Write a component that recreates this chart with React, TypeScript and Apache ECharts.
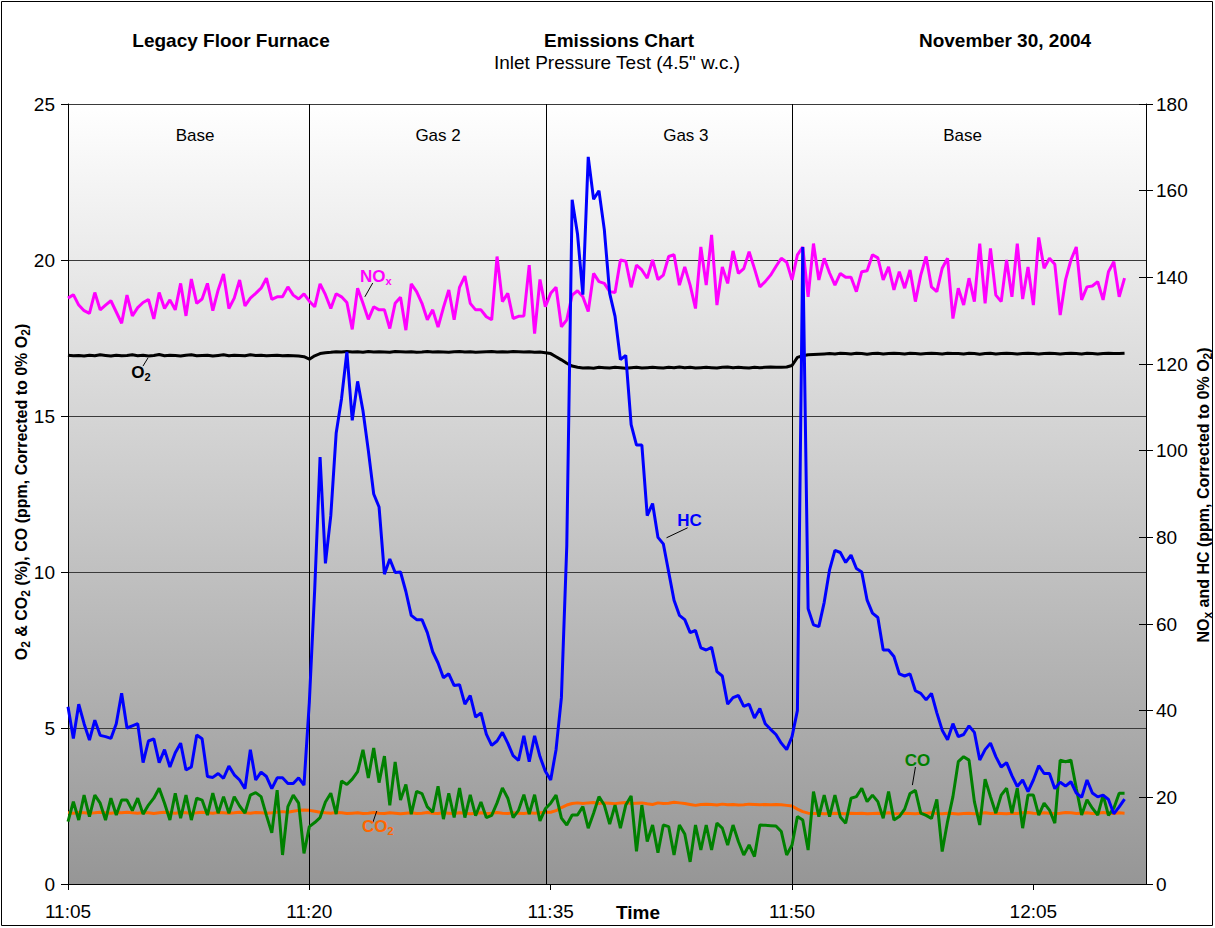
import React, { useEffect, useRef } from "react";
import * as echarts from "echarts";

// ---- time base: samples every 20 s starting 11:05 (x in minutes after 11:05)
const START_HOUR = 11;
const START_MINUTE = 5;
const STEP_MIN = 1 / 3;
const X_MAX = 67;
const X_INTERVAL = 15;

// ---- test phases
const PHASE_BOUNDS = [15.0, 29.7, 45.0];
const PHASE_NAMES = ["Base", "Gas 2", "Gas 3", "Base"];
const PHASE_LABEL_T = [7.9, 23.0, 38.4, 55.6];
const PHASE_LABEL_V = 24.0;

// ---- series values
// HC, ppm (right axis)
const HC = [
  40.9, 33.6, 41.5, 37, 33.2, 37.8, 34.3, 34, 33.6, 37,
  44, 36, 36.5, 37, 28, 33, 33.5, 28, 31, 27,
  30.3, 32.5, 26.3, 27, 34.4, 33.5, 24.8, 24.6, 25.5, 24.4,
  27.2, 25.2, 24, 22, 31, 24, 25.8, 24.8, 22, 24.5,
  24.5, 23.2, 23.2, 24.5, 22.8, 42, 68, 98.5, 74, 85,
  104, 112, 122.8, 107, 116, 109.2, 100, 90, 87, 71.5,
  75, 71.9, 72, 67.5, 62, 61, 61, 58, 53.6, 51,
  47.6, 48.5, 45.8, 46, 41.5, 43.5, 38.5, 39.5, 34.6, 32,
  33, 35, 32.5, 29.6, 28.5, 34.2, 28.2, 34.2, 29.4, 26,
  24, 31, 43, 78, 157.9, 150, 136, 167.8, 158, 160,
  151, 136.3, 131, 121, 122, 106, 101.3, 101.3, 85, 87.8,
  80, 78.5, 72, 65.5, 62, 61, 58, 58.5, 54.5, 54,
  54.6, 49, 48, 41.5, 43, 43.5, 41, 41.5, 38.3, 40.5,
  37, 35.7, 34.5, 32.5, 31, 34, 40, 147, 63.5, 59.8,
  59.4, 65, 72.5, 77, 76.5, 74.2, 75.9, 72.8, 72, 65.5,
  62.5, 61.5, 54, 54, 52.5, 48.5, 48, 48.5, 44.6, 44,
  42.5, 44, 39.5, 35.5, 33.3, 37, 34, 34.5, 36.5, 35,
  28.6, 31, 32.5, 29.4, 27, 28, 25, 22.5, 24, 21.3,
  24, 27.3, 25.5, 25.5, 22, 23.5, 22.6, 23.6, 21, 20,
  24, 21, 20.1, 20.5, 19.5, 16.2, 17.8, 19.6,
];

// NOx, ppm (right axis)
const NOX = [
  135.2, 136, 133.6, 132.3, 131.7, 136.5, 132.5, 133.6, 134.6, 132,
  129.4, 135.9, 131.1, 133, 134.2, 134.9, 130.4, 136.5, 132.8, 134.8,
  132.5, 138.6, 131.1, 139.6, 134, 135, 138.6, 132.3, 137.1, 140.8,
  132.8, 135.2, 139.4, 133.4, 135.2, 136.3, 137.5, 139.8, 134.9, 135.5,
  135.5, 137.8, 135.9, 135, 136.2, 134.5, 133.2, 138.5, 136, 132.8,
  136.2, 135.5, 134.2, 128, 137.5, 134, 130.3, 133.2, 132.5, 132.5,
  128.2, 134, 135.4, 127.8, 138.5, 136.7, 134, 130.2, 132.5, 128.5,
  133, 137.1, 130.2, 137.7, 140.3, 134, 132.5, 132.5, 130.9, 130.2,
  144.8, 134.4, 136.3, 130.5, 131, 131.1, 142.8, 127, 139.5, 133.2,
  136.3, 137.7, 128.6, 130.2, 135.9, 136.9, 135.5, 132.1, 140.9, 139,
  138.6, 136.7, 136.5, 144, 143.7, 137.7, 142.8, 141.7, 139.8, 144,
  139.5, 140.5, 144.8, 145.2, 138.2, 142.4, 138.2, 132.8, 147, 138.2,
  149.8, 133.6, 142.4, 138.6, 146.1, 140.9, 142, 145.9, 142, 137.8,
  139, 140.5, 142.5, 144.4, 143.5, 139.4, 145.2, 147, 135.5, 147.8,
  139.4, 144.4, 141, 138.2, 140.9, 140, 140, 136.7, 141.3, 141.5,
  145.2, 144.5, 139.4, 142.4, 137.1, 141.3, 137.5, 141.7, 134.4, 140.5,
  144.8, 137.8, 136.7, 142.1, 144.4, 130.5, 137.5, 133.6, 139.8, 134.4,
  147.8, 134, 146.7, 135.9, 134.4, 144, 135.5, 147.8, 135, 142.4,
  133.6, 149.2, 142.1, 144.4, 143, 131.3, 139.4, 144, 147, 134.8,
  137.8, 138, 139, 134.8, 141.3, 143.6, 135.5, 139.8,
];

// O2, % (left axis)
const O2 = [
  16.95, 16.93, 16.94, 16.92, 16.95, 16.93, 16.96, 16.94, 16.92, 16.95,
  16.93, 16.94, 16.96, 16.93, 16.95, 16.92, 16.94, 16.97, 16.93, 16.95,
  16.94, 16.92, 16.95, 16.96, 16.93, 16.94, 16.95, 16.92, 16.94, 16.96,
  16.93, 16.95, 16.94, 16.93, 16.96, 16.94, 16.95, 16.93, 16.94, 16.95,
  16.93, 16.94, 16.93, 16.92, 16.9, 16.82, 16.93, 17.0, 17.03, 17.04,
  17.06, 17.05, 17.07, 17.05, 17.06, 17.04, 17.07, 17.05, 17.06, 17.05,
  17.04, 17.07, 17.06, 17.05, 17.06, 17.04, 17.05, 17.07, 17.05, 17.06,
  17.05, 17.04, 17.06, 17.07, 17.05, 17.06, 17.04, 17.05, 17.06, 17.07,
  17.05, 17.06, 17.05, 17.07, 17.06, 17.05, 17.06, 17.04, 17.05, 17.03,
  17.0, 16.9, 16.8, 16.69, 16.6, 16.56, 16.54, 16.55, 16.53, 16.56,
  16.55, 16.54, 16.56, 16.55, 16.53, 16.55, 16.56, 16.54, 16.55, 16.56,
  16.55, 16.54, 16.56, 16.55, 16.57, 16.55, 16.56, 16.54, 16.55, 16.56,
  16.55, 16.54, 16.56, 16.57, 16.55, 16.56, 16.55, 16.54, 16.56, 16.55,
  16.56, 16.57, 16.56, 16.56, 16.57, 16.62, 16.88, 16.93, 16.96, 16.97,
  16.98, 16.99, 17.0, 16.99, 17.01, 17.0, 16.99, 17.01, 17.0, 16.98,
  17.0, 17.01, 16.99, 17.0, 17.01, 17.0, 16.99, 17.01, 17.0, 16.99,
  17.0, 17.01, 17.0, 16.99, 17.01, 17.0, 17.0, 16.99, 17.01, 17.0,
  16.98, 17.0, 17.01, 16.99, 17.0, 17.01, 17.0, 16.99, 17.0, 17.01,
  17.0, 16.99, 17.0, 17.01, 17.0, 16.99, 17.0, 17.01, 17.0, 16.99,
  17.01, 17.0, 16.99, 17.0, 17.01, 17.0, 17.0, 17.01,
];

// CO2, % (left axis)
const CO2 = [
  2.28, 2.27, 2.29, 2.28, 2.27, 2.28, 2.3, 2.28, 2.27, 2.29,
  2.28, 2.3, 2.28, 2.27, 2.29, 2.28, 2.26, 2.28, 2.3, 2.28,
  2.27, 2.29, 2.28, 2.27, 2.28, 2.3, 2.28, 2.27, 2.29, 2.28,
  2.27, 2.28, 2.3, 2.28, 2.27, 2.29, 2.28, 2.27, 2.28, 2.3,
  2.32, 2.3, 2.33, 2.36, 2.37, 2.36, 2.33, 2.3, 2.28, 2.27,
  2.29, 2.28, 2.26, 2.27, 2.28, 2.26, 2.27, 2.29, 2.27, 2.26,
  2.28, 2.27, 2.25, 2.27, 2.28, 2.26, 2.27, 2.29, 2.27, 2.26,
  2.28, 2.27, 2.26, 2.28, 2.27, 2.25, 2.27, 2.28, 2.26, 2.27,
  2.29, 2.27, 2.26, 2.28, 2.27, 2.26, 2.28, 2.27, 2.28, 2.3,
  2.3, 2.35, 2.45, 2.53, 2.58, 2.6, 2.58, 2.6, 2.61, 2.58,
  2.6, 2.59, 2.57, 2.6, 2.61, 2.58, 2.59, 2.6, 2.57, 2.55,
  2.6, 2.58, 2.59, 2.62, 2.6, 2.58, 2.55, 2.52, 2.55, 2.56,
  2.55, 2.53, 2.56, 2.54, 2.55, 2.53, 2.54, 2.56, 2.55, 2.54,
  2.55, 2.54, 2.55, 2.54, 2.52, 2.5, 2.4, 2.32, 2.27, 2.26,
  2.27, 2.25, 2.26, 2.27, 2.26, 2.25, 2.27, 2.26, 2.27, 2.25,
  2.26, 2.27, 2.26, 2.28, 2.26, 2.25, 2.27, 2.26, 2.25, 2.27,
  2.26, 2.28, 2.26, 2.25, 2.27, 2.26, 2.24, 2.26, 2.27, 2.25,
  2.26, 2.28, 2.26, 2.27, 2.26, 2.25, 2.27, 2.26, 2.28, 2.29,
  2.27, 2.26, 2.28, 2.27, 2.26, 2.27, 2.29, 2.28, 2.26, 2.27,
  2.28, 2.26, 2.27, 2.29, 2.27, 2.26, 2.28, 2.27,
];

// CO, ppm (left axis)
const CO = [
  2.0, 2.64, 2.05, 2.85, 2.16, 2.85, 2.59, 2.05, 2.75, 2.21,
  2.69, 2.69, 2.35, 2.75, 2.24, 2.53, 2.75, 3.07, 2.59, 2.05,
  2.91, 2.11, 2.85, 2.05, 2.75, 2.69, 2.21, 2.91, 2.27, 2.8,
  2.27, 2.8, 2.5, 2.27, 2.85, 2.93, 2.8, 2.2, 1.64, 3.01,
  0.93, 2.48, 2.85, 2.59, 0.98, 1.84, 1.97, 2.13, 2.63, 2.91,
  2.24, 3.3, 3.19, 3.36, 3.6, 4.3, 3.4, 4.36, 3.25, 4.1,
  2.52, 3.91, 2.69, 3.19, 2.24, 2.97, 2.9, 2.47, 2.3, 3.13,
  2.08, 2.91, 2.13, 3.08, 2.13, 2.86, 2.19, 2.63, 2.13, 2.2,
  2.6, 3.08, 2.75, 2.13, 2.36, 2.86, 2.24, 2.86, 2.02, 2.41,
  2.59, 2.85, 2.11, 1.89, 2.21, 2.21, 2.48, 1.79, 2.27, 2.8,
  2.53, 1.92, 2.53, 1.79, 2.53, 2.82, 1.05, 2.53, 1.36, 1.89,
  1.0, 1.89, 1.84, 0.93, 1.89, 1.6, 0.71, 1.89, 1.09, 1.89,
  1.09, 1.95, 1.79, 1.25, 1.89, 1.36, 0.93, 1.25, 0.88, 1.89,
  1.88, 1.87, 1.86, 1.68, 0.93, 1.25, 2.16, 2.05, 1.09, 2.96,
  2.16, 2.85, 2.16, 2.85, 2.15, 1.95, 2.75, 2.8, 3.07, 2.64,
  2.85, 2.64, 2.11, 2.96, 2.05, 2.16, 2.4, 2.9, 3.0, 2.27,
  2.2, 2.1, 2.71, 1.04, 2.0, 2.8, 3.92, 4.08, 3.97, 2.64,
  1.89, 3.36, 2.8, 2.27, 2.85, 3.07, 2.27, 3.07, 1.79, 2.85,
  2.85, 2.21, 2.59, 2.37, 1.95, 3.97, 3.92, 3.97, 3.07, 2.21,
  2.7, 2.43, 2.21, 2.85, 2.2, 2.43, 2.91, 2.91,
];

const FONT = '"Liberation Sans", Arial, Helvetica, sans-serif';

// label annotations (anchored in data space: [minutes, value], axis 0 = left, 1 = right)
const SERIES_LABELS = [
  { text: "NO{sub|x}", color: "#FF00FF", axis: 1, at: [19.13, 140.3], lead: [[18.94, 138.7], [18.45, 135.5]] },
  { text: "O{sub|2}", color: "#000000", axis: 0, at: [4.53, 16.41], lead: [[4.97, 16.86], [4.66, 16.6]] },
  { text: "HC", color: "#0000FF", axis: 1, at: [38.63, 84.0], lead: [[38.51, 82.2], [37.2, 79.9]] },
  { text: "CO{sub|2}", color: "#FF6600", axis: 0, at: [19.25, 1.83], lead: [[19.19, 2.34], [18.94, 1.96]] },
  { text: "CO", color: "#008000", axis: 0, at: [52.8, 3.97], lead: [[52.67, 3.75], [52.48, 3.17]] },
];

function clock(m: number): string {
  const total = START_HOUR * 60 + START_MINUTE + m;
  const h = Math.floor(total / 60);
  const mm = Math.round(total % 60);
  return `${h}:${mm < 10 ? "0" + mm : mm}`;
}

function toPoints(vals: number[]) {
  return vals.map((v, i) => [i * STEP_MIN, v]);
}

function lineSeries(name: string, vals: number[], color: string, yAxisIndex: number, z: number) {
  return {
    name,
    type: "line",
    data: toPoints(vals),
    yAxisIndex,
    showSymbol: false,
    symbol: "none",
    lineStyle: { color, width: 3 },
    itemStyle: { color },
    z,
    silent: true,
  };
}

function buildOption() {
  const baseLabel = { color: "#000", fontSize: 19, fontFamily: FONT };
  const o2 = lineSeries("O2", O2, "#000000", 0, 3) as any;
  o2.markLine = {
    symbol: "none",
    silent: true,
    label: { show: false },
    lineStyle: { color: "#000", width: 1, type: "solid" },
    data: PHASE_BOUNDS.map((t) => ({ xAxis: t })),
  };
  return {
    animation: false,
    backgroundColor: "#ffffff",
    grid: {
      left: 68,
      right: 69,
      top: 104,
      bottom: 44,
      show: true,
      borderWidth: 0,
      backgroundColor: new echarts.graphic.LinearGradient(0, 0, 0, 1, [
        { offset: 0, color: "#ffffff" },
        { offset: 1, color: "#969696" },
      ]),
    },
    xAxis: {
      type: "value",
      min: 0,
      max: X_MAX,
      interval: X_INTERVAL,
      axisLine: { show: true, onZero: false, lineStyle: { color: "#000", width: 1 } },
      axisTick: { show: true, length: 6, lineStyle: { color: "#000" } },
      axisLabel: {
        ...baseLabel,
        margin: 18,
        showMaxLabel: false,
        formatter: (v: number) => (Math.abs(v % X_INTERVAL) < 1e-6 ? clock(v) : ""),
      },
      splitLine: { show: false },
    },
    yAxis: [
      {
        type: "value",
        position: "left",
        min: 0,
        max: 25,
        interval: 5,
        axisLine: { show: true, lineStyle: { color: "#000", width: 1 } },
        axisTick: { show: true, length: 7, lineStyle: { color: "#000" } },
        axisLabel: { ...baseLabel, margin: 13 },
        splitLine: { show: true, lineStyle: { color: "#3a3a3a", width: 1 } },
      },
      {
        type: "value",
        position: "right",
        min: 0,
        max: 180,
        interval: 20,
        axisLine: { show: true, lineStyle: { color: "#000", width: 1 } },
        axisTick: { show: true, length: 7, lineStyle: { color: "#000" } },
        axisLabel: { ...baseLabel, margin: 10 },
        splitLine: { show: false },
      },
      {
        type: "value",
        position: "right",
        min: 0,
        max: 180,
        interval: 20,
        axisLine: { show: false },
        axisTick: { show: true, inside: true, length: 7, lineStyle: { color: "#000" } },
        axisLabel: { show: false },
        splitLine: { show: false },
      },
    ],
    series: [
      o2,
      lineSeries("CO2", CO2, "#FF6600", 0, 4),
      lineSeries("NOx", NOX, "#FF00FF", 1, 5),
      lineSeries("CO", CO, "#008000", 0, 6),
      lineSeries("HC", HC, "#0000FF", 1, 7),
    ],
  };
}

function buildGraphics(px: (t: number, v: number, axis: number) => number[]) {
  const g: any[] = [];
  const sub = { fontSize: 12, fontWeight: "bold", fontFamily: FONT, padding: [9, 0, 0, 0] };
  // outer frame
  g.push({ type: "rect", shape: { x: 1.5, y: 1.5, width: 1211, height: 924 }, style: { fill: "none", stroke: "#000", lineWidth: 1 }, z: 1, silent: true });
  // titles
  const title = (text: string, x: number, y: number, bold: boolean, size: number) =>
    g.push({
      type: "text",
      x,
      y,
      z: 100,
      style: { text, fill: "#000", fontSize: size, fontWeight: bold ? "bold" : "normal", fontFamily: FONT, align: "center", verticalAlign: "middle" },
    });
  title("Legacy Floor Furnace", 231, 40, true, 19);
  title("Emissions Chart", 619, 40, true, 19);
  title('Inlet Pressure Test (4.5" w.c.)', 617, 62, false, 19);
  title("November 30, 2004", 1005, 40, true, 19);
  title("Time", 638, 912, true, 19);
  // axis titles
  g.push({
    type: "text",
    x: 21,
    y: 492,
    rotation: Math.PI / 2,
    z: 100,
    style: {
      text: "O{sub|2} & CO{sub|2} (%), CO (ppm, Corrected to 0% O{sub|2})",
      fill: "#000",
      fontSize: 16,
      fontWeight: "bold",
      fontFamily: FONT,
      align: "center",
      verticalAlign: "middle",
      rich: { sub },
    },
  });
  g.push({
    type: "text",
    x: 1203,
    y: 495,
    rotation: Math.PI / 2,
    z: 100,
    style: {
      text: "NO{sub|x} and HC (ppm, Corrected to 0% O{sub|2})",
      fill: "#000",
      fontSize: 16,
      fontWeight: "bold",
      fontFamily: FONT,
      align: "center",
      verticalAlign: "middle",
      rich: { sub },
    },
  });
  // phase labels
  PHASE_NAMES.forEach((name, i) => {
    const p = px(PHASE_LABEL_T[i], PHASE_LABEL_V, 0);
    g.push({
      type: "text",
      x: p[0],
      y: p[1],
      z: 100,
      style: { text: name, fill: "#000", fontSize: 17, fontFamily: FONT, align: "center", verticalAlign: "middle" },
    });
  });
  // series labels + leader lines
  SERIES_LABELS.forEach((s) => {
    const p = px(s.at[0], s.at[1], s.axis);
    const a = px(s.lead[0][0], s.lead[0][1], s.axis);
    const b = px(s.lead[1][0], s.lead[1][1], s.axis);
    g.push({
      type: "line",
      z: 100,
      shape: { x1: a[0], y1: a[1], x2: b[0], y2: b[1] },
      style: { stroke: "#000", lineWidth: 1 },
    });
    g.push({
      type: "text",
      x: p[0],
      y: p[1],
      z: 101,
      style: {
        text: s.text,
        fill: s.color,
        fontSize: 17,
        fontWeight: "bold",
        fontFamily: FONT,
        align: "center",
        verticalAlign: "middle",
        rich: { sub: { ...sub, fill: s.color, fontSize: 11 } },
      },
    });
  });
  return g;
}

export default function App() {
  const ref = useRef<HTMLDivElement>(null);
  useEffect(() => {
    const el = ref.current;
    if (!el) return;
    const chart = echarts.init(el, null, { renderer: "svg" });
    chart.setOption(buildOption() as any);
    const px = (t: number, v: number, axis: number) =>
      chart.convertToPixel({ xAxisIndex: 0, yAxisIndex: axis } as any, [t, v]) as number[];
    chart.setOption({ graphic: buildGraphics(px) } as any);
    return () => chart.dispose();
  }, []);
  return <div ref={ref} style={{ position: "absolute", left: 0, top: 0, width: 1215, height: 928 }} />;
}
